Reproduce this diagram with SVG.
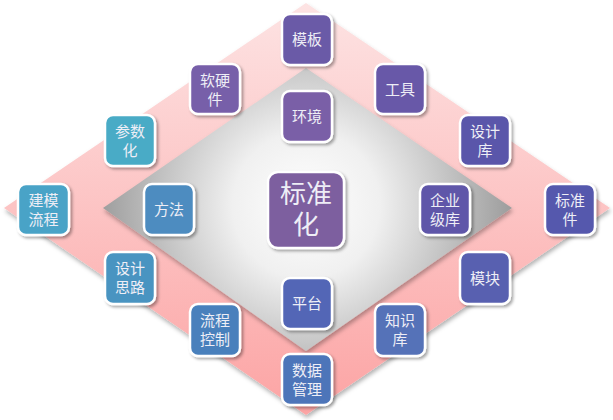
<svg xmlns="http://www.w3.org/2000/svg" width="613" height="420" viewBox="0 0 613 420">
<defs>
<linearGradient id="pink" x1="0" y1="0" x2="0" y2="1">
<stop offset="0" stop-color="#fde3e3"/>
<stop offset="1" stop-color="#fca4a4"/>
</linearGradient>
<radialGradient id="gray" cx="306" cy="205" r="210" gradientUnits="userSpaceOnUse">
<stop offset="0" stop-color="#ffffff"/>
<stop offset="0.35" stop-color="#f0f0f0"/>
<stop offset="1" stop-color="#9a9a9a"/>
</radialGradient>
<filter id="sh" x="-20%" y="-20%" width="150%" height="150%">
<feDropShadow dx="2" dy="2" stdDeviation="1.5" flood-color="#000" flood-opacity="0.35"/>
</filter>
<filter id="sh2" x="-10%" y="-10%" width="120%" height="120%">
<feDropShadow dx="1" dy="3" stdDeviation="2" flood-color="#000" flood-opacity="0.3"/>
</filter>
</defs>
<style>
.n rect{stroke:#ffffff;stroke-width:2.5;filter:url(#sh)}
.n text{fill:#eeeef6;font-family:"Noto Sans CJK SC","Noto Sans CJK TC",sans-serif;font-size:15px;text-anchor:middle}
.big text{font-size:26px}
</style>
<g id="background">
<polygon points="306,3 610,208 306,415 4,208" fill="url(#pink)" filter="url(#sh2)"/>
<polygon points="306,68 512,208 306,351 103,208" fill="url(#gray)" filter="url(#sh2)"/>
</g>
<g id="n-mb" class="n"><rect x="282" y="14" width="50" height="51" rx="8" fill="#6a5aa7"/><text x="307" y="45">模板</text></g>
<g id="n-gj" class="n"><rect x="375" y="64" width="50" height="50" rx="8" fill="#6759a8"/><text x="400" y="94.5">工具</text></g>
<g id="n-sjk" class="n"><rect x="460" y="115" width="50" height="51" rx="8" fill="#5a56aa"/><text x="485" y="136.5">设计</text><text x="485" y="155.5">库</text></g>
<g id="n-bzj" class="n"><rect x="545" y="184" width="50" height="51" rx="8" fill="#5558ad"/><text x="570" y="205.5">标准</text><text x="570" y="224.5">件</text></g>
<g id="n-mk" class="n"><rect x="460" y="252" width="50" height="52" rx="8" fill="#5860b0"/><text x="485" y="283.5">模块</text></g>
<g id="n-zsk" class="n"><rect x="375" y="304" width="50" height="52" rx="8" fill="#5472b8"/><text x="400" y="326">知识</text><text x="400" y="345">库</text></g>
<g id="n-sjgl" class="n"><rect x="282" y="354" width="50" height="51" rx="8" fill="#4d74b9"/><text x="307" y="375.5">数据</text><text x="307" y="394.5">管理</text></g>
<g id="n-lckz" class="n"><rect x="190" y="304" width="50" height="52" rx="8" fill="#4a80bc"/><text x="215" y="326">流程</text><text x="215" y="345">控制</text></g>
<g id="n-sjsl" class="n"><rect x="105" y="252" width="50" height="52" rx="8" fill="#4a94c1"/><text x="130" y="274">设计</text><text x="130" y="293">思路</text></g>
<g id="n-jmlc" class="n"><rect x="18" y="184" width="51" height="51" rx="8" fill="#48a3c7"/><text x="43.5" y="205.5">建模</text><text x="43.5" y="224.5">流程</text></g>
<g id="n-csh" class="n"><rect x="105" y="115" width="50" height="51" rx="8" fill="#4aabc6"/><text x="130" y="136.5">参数</text><text x="130" y="155.5">化</text></g>
<g id="n-rjy" class="n"><rect x="190" y="64" width="50" height="50" rx="8" fill="#775ea9"/><text x="215" y="85.5">软硬</text><text x="215" y="104.5">件</text></g>
<g id="n-hj" class="n"><rect x="282" y="91" width="50" height="51" rx="8" fill="#7a5fa7"/><text x="307" y="121.5">环境</text></g>
<g id="n-ff" class="n"><rect x="144" y="184" width="50" height="51" rx="8" fill="#4e8cc0"/><text x="169" y="214.5">方法</text></g>
<g id="n-qyjk" class="n"><rect x="420" y="184" width="50" height="51" rx="8" fill="#5f56a9"/><text x="445" y="205.5">企业</text><text x="445" y="224.5">级库</text></g>
<g id="n-pt" class="n"><rect x="282" y="278" width="50" height="51" rx="8" fill="#5266b6"/><text x="307" y="308.5">平台</text></g>
<g id="n-bzh" class="n big"><rect x="268" y="172" width="76" height="76" rx="10" fill="#7d5f9f"/><text x="306" y="203">标准</text><text x="306" y="234">化</text></g>
<g id="connectors"/>
</svg>
